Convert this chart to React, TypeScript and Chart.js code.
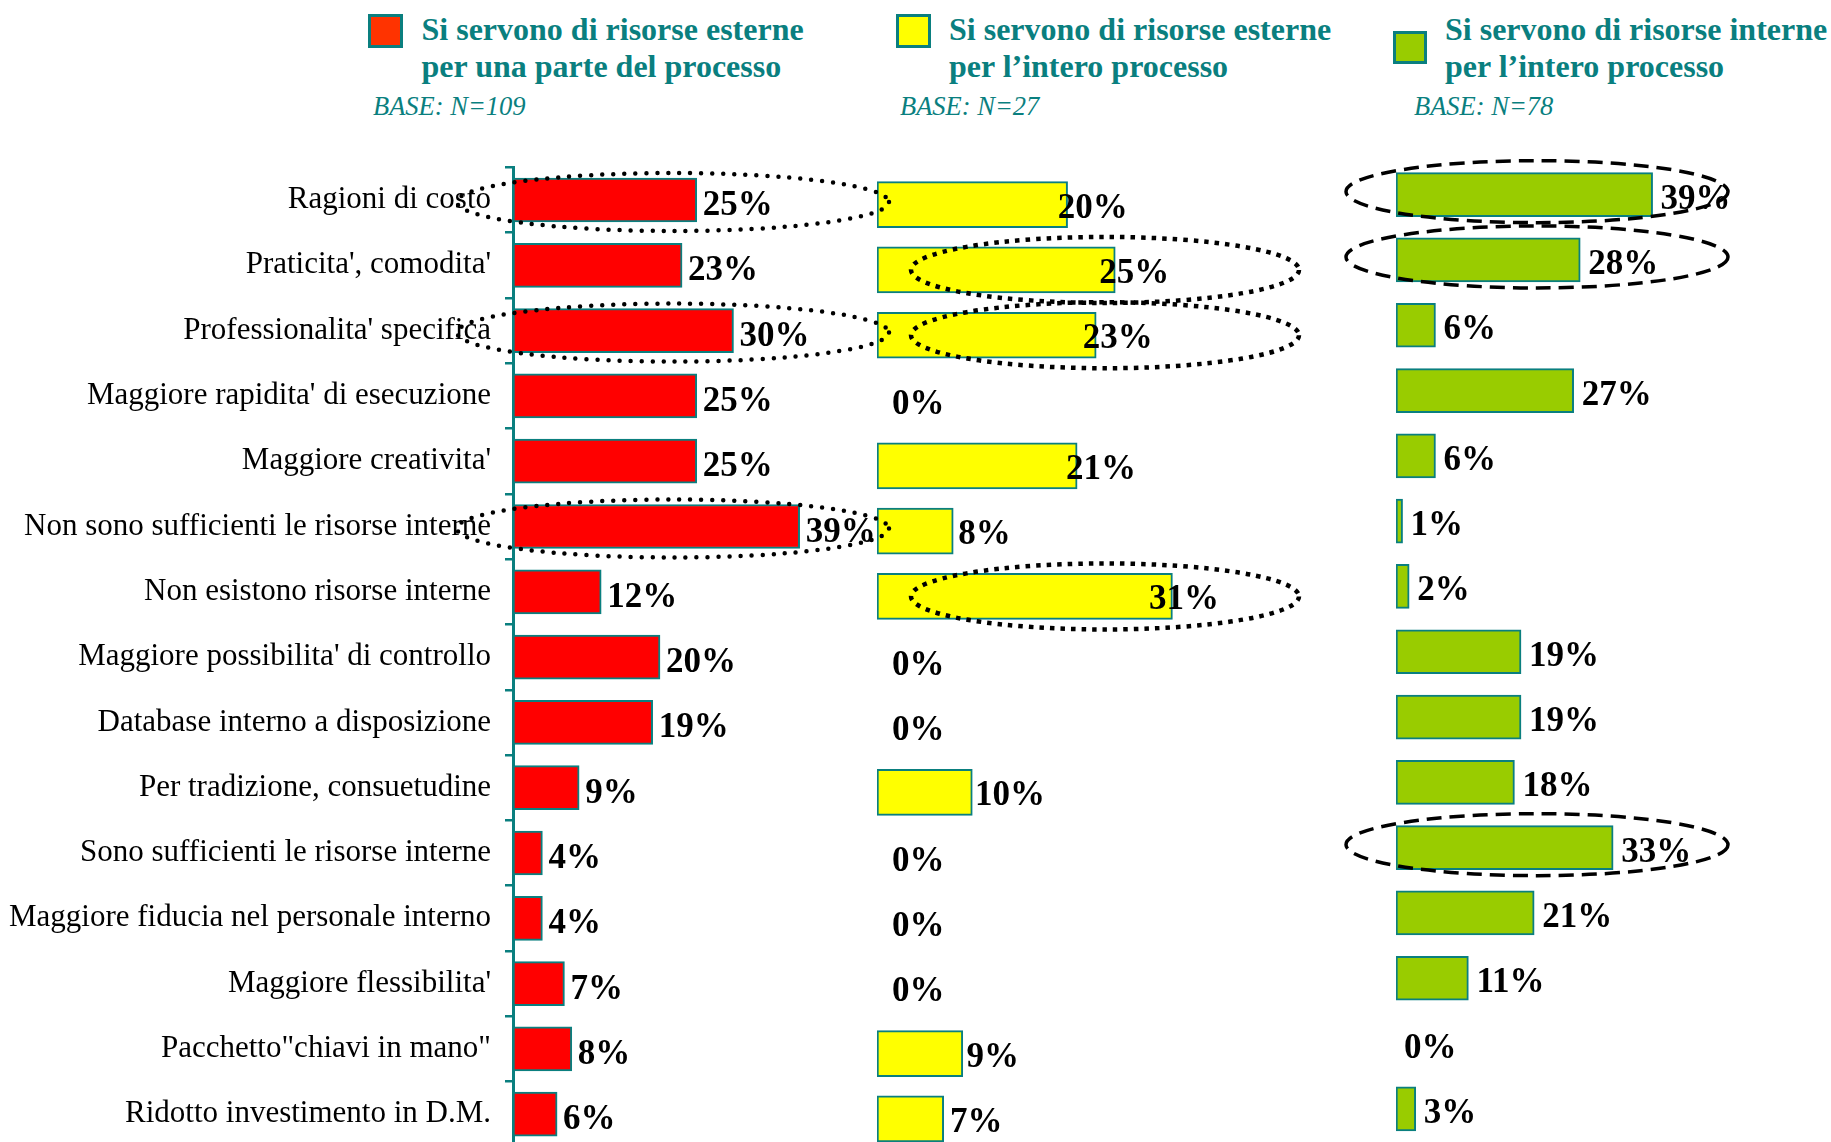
import React, { useEffect, useRef } from "react";
import { Chart, registerables } from "chart.js";

Chart.register(...registerables);

// ---------- DATA ----------
const categories = [
  "Ragioni di costo",
  "Praticita', comodita'",
  "Professionalita' specifica",
  "Maggiore rapidita' di esecuzione",
  "Maggiore creativita'",
  "Non sono sufficienti le risorse interne",
  "Non esistono risorse interne",
  "Maggiore possibilita' di controllo",
  "Database interno a disposizione",
  "Per tradizione, consuetudine",
  "Sono sufficienti le risorse interne",
  "Maggiore fiducia nel personale interno",
  "Maggiore flessibilita'",
  "Pacchetto\"chiavi in mano\"",
  "Ridotto investimento in D.M.",
];

const partialExternal = [25, 23, 30, 25, 25, 39, 12, 20, 19, 9, 4, 4, 7, 8, 6];
const fullExternal = [20, 25, 23, 0, 21, 8, 31, 0, 0, 10, 0, 0, 0, 9, 7];
const fullInternal = [39, 28, 6, 27, 6, 1, 2, 19, 19, 18, 33, 21, 11, 0, 3];

const partialExternalHighlights = [0, 2, 5];
const fullExternalHighlights = [1, 2, 6];
const fullInternalHighlights = [0, 1, 10];

const legendTitles = [
  ["Si servono di risorse esterne", "per una parte del processo"],
  ["Si servono di risorse esterne", "per l\u2019intero processo"],
  ["Si servono di risorse interne", "per l\u2019intero processo"],
];
const legendBases = ["BASE: N=109", "BASE: N=27", "BASE: N=78"];

// ---------- STYLE / LAYOUT ----------
const W = 1831;
const H = 1200;
const TEAL = "#0a7f7f";
const PITCH = 65.3;
const SERIF = "'Liberation Serif', 'Times New Roman', serif";

type Panel = {
  values: number[];
  highlights: number[];
  color: string;
  swatch: string;
  base: number;
  pxPer: number;
  bandTop: number;
  barThickness: number;
  labelK: number;
  labelC: number;
  labelDy: number;
  ell: { cx: number; rx: number; ry: number; dy: number; dash: number[]; width: number; cap: CanvasLineCap };
  showAxis: boolean;
  legend: { box: [number, number, number, number]; textX: number; baseX: number };
  z: number;
};

const panels: Panel[] = [
  {
    values: partialExternal,
    highlights: partialExternalHighlights,
    color: "#ff0000",
    swatch: "#ff3300",
    base: 513,
    pxPer: 7.35,
    bandTop: 167.35,
    barThickness: 44,
    labelK: 1,
    labelC: 6,
    labelDy: 15,
    ell: { cx: 160, rx: 216, ry: 29, dy: 2, dash: [0, 11], width: 4.5, cap: "round" },
    showAxis: true,
    legend: { box: [368, 14, 35, 34], textX: 421.5, baseX: 373 },
    z: 3,
  },
  {
    values: fullExternal,
    highlights: fullExternalHighlights,
    color: "#ffff00",
    swatch: "#ffff00",
    base: 877,
    pxPer: 9.53,
    bandTop: 172,
    barThickness: 46,
    labelK: 0.87,
    labelC: 15,
    labelDy: 13,
    ell: { cx: 228, rx: 194, ry: 33, dy: 0, dash: [4.5, 6], width: 4.5, cap: "butt" },
    showAxis: false,
    legend: { box: [896, 14, 35, 34], textX: 949, baseX: 900 },
    z: 1,
  },
  {
    values: fullInternal,
    highlights: fullInternalHighlights,
    color: "#99cc00",
    swatch: "#99cc00",
    base: 1396,
    pxPer: 6.58,
    bandTop: 162,
    barThickness: 44,
    labelK: 1,
    labelC: 8,
    labelDy: 14,
    ell: { cx: 141, rx: 191, ry: 31, dy: -3, dash: [15, 8], width: 3.5, cap: "butt" },
    showAxis: false,
    legend: { box: [1393, 31, 34, 33], textX: 1445, baseX: 1414 },
    z: 2,
  },
];

function PanelChart({ panel }: { panel: Panel }) {
  const ref = useRef<HTMLCanvasElement | null>(null);
  useEffect(() => {
    if (!ref.current) return;
    const xMax = 60;
    const right = panel.base + xMax * panel.pxPer;
    const padBottom = H - panel.bandTop - categories.length * PITCH;

    const labelPlugin = {
      id: "valueLabels",
      afterDatasetsDraw(chart: any) {
        const ctx = chart.ctx;
        const meta = chart.getDatasetMeta(0);
        const xs = chart.scales.x;
        const base = xs.getPixelForValue(0);
        ctx.save();
        ctx.font = `bold 35px ${SERIF}`;
        ctx.fillStyle = "#000";
        ctx.textAlign = "left";
        ctx.textBaseline = "alphabetic";
        panel.values.forEach((v, i) => {
          const el = meta.data[i];
          const x = base + panel.labelK * (el.x - base) + panel.labelC;
          ctx.fillText(`${v}%`, x, el.y + panel.labelDy);
        });
        // highlight ellipses
        ctx.strokeStyle = "#000";
        ctx.lineWidth = panel.ell.width;
        ctx.lineCap = panel.ell.cap;
        ctx.setLineDash(panel.ell.dash);
        panel.highlights.forEach((i) => {
          const el = meta.data[i];
          ctx.beginPath();
          ctx.ellipse(base + panel.ell.cx, el.y + panel.ell.dy, panel.ell.rx, panel.ell.ry, 0, 0, Math.PI * 2);
          ctx.stroke();
        });
        ctx.restore();
      },
    };

    const chart = new Chart(ref.current, {
      type: "bar",
      data: {
        labels: categories,
        datasets: [
          {
            data: panel.values,
            backgroundColor: panel.color,
            borderColor: TEAL,
            borderWidth: 2,
            borderSkipped: false,
            barThickness: panel.barThickness,
          },
        ],
      },
      options: {
        indexAxis: "y",
        responsive: false,
        maintainAspectRatio: false,
        animation: false,
        devicePixelRatio: 1,
        layout: {
          padding: {
            left: panel.showAxis ? 0 : panel.base,
            right: W - right,
            top: panel.bandTop,
            bottom: padBottom,
          },
        },
        scales: {
          x: { display: false, min: 0, max: xMax },
          y: panel.showAxis
            ? {
                display: true,
                afterFit: (s: any) => {
                  s.width = panel.base;
                },
                grid: {
                  display: true,
                  drawOnChartArea: false,
                  drawTicks: true,
                  tickLength: 8,
                  color: TEAL,
                  lineWidth: 2.5,
                  offset: true,
                },
                border: { display: true, color: TEAL, width: 3 },
                ticks: {
                  color: "#000",
                  padding: 14,
                  font: { family: SERIF, size: 31 },
                },
              }
            : { display: false },
        },
        plugins: {
          legend: { display: false },
          tooltip: { enabled: false },
        },
      },
      plugins: [labelPlugin],
    } as any);
    return () => chart.destroy();
  }, [panel]);

  return (
    <canvas
      ref={ref}
      width={W}
      height={H}
      style={{ position: "absolute", left: 0, top: 0, width: W, height: H, zIndex: panel.z }}
    />
  );
}

export default function App() {
  return (
    <div
      style={{
        position: "fixed",
        left: 0,
        top: 0,
        width: W,
        height: 1142,
        overflow: "hidden",
        background: "#fff",
      }}
    >
      {panels.map((p, k) => (
        <React.Fragment key={k}>
          <div
            style={{
              position: "absolute",
              left: p.legend.box[0],
              top: p.legend.box[1],
              width: p.legend.box[2],
              height: p.legend.box[3],
              background: p.swatch,
              border: `3px solid ${TEAL}`,
              boxSizing: "border-box",
            }}
          />
          <div
            style={{
              position: "absolute",
              left: p.legend.textX,
              top: 11,
              fontFamily: SERIF,
              fontWeight: "bold",
              fontSize: 32,
              lineHeight: "37px",
              color: TEAL,
              whiteSpace: "pre",
            }}
          >
            {legendTitles[k][0]}
            <br />
            {legendTitles[k][1]}
          </div>
          <div
            style={{
              position: "absolute",
              left: p.legend.baseX,
              top: 92.5,
              fontFamily: SERIF,
              fontStyle: "italic",
              fontSize: 26.5,
              lineHeight: "27px",
              color: TEAL,
              whiteSpace: "pre",
            }}
          >
            {legendBases[k]}
          </div>
        </React.Fragment>
      ))}
      {panels.map((p, k) => (
        <PanelChart key={`c${k}`} panel={p} />
      ))}
    </div>
  );
}
